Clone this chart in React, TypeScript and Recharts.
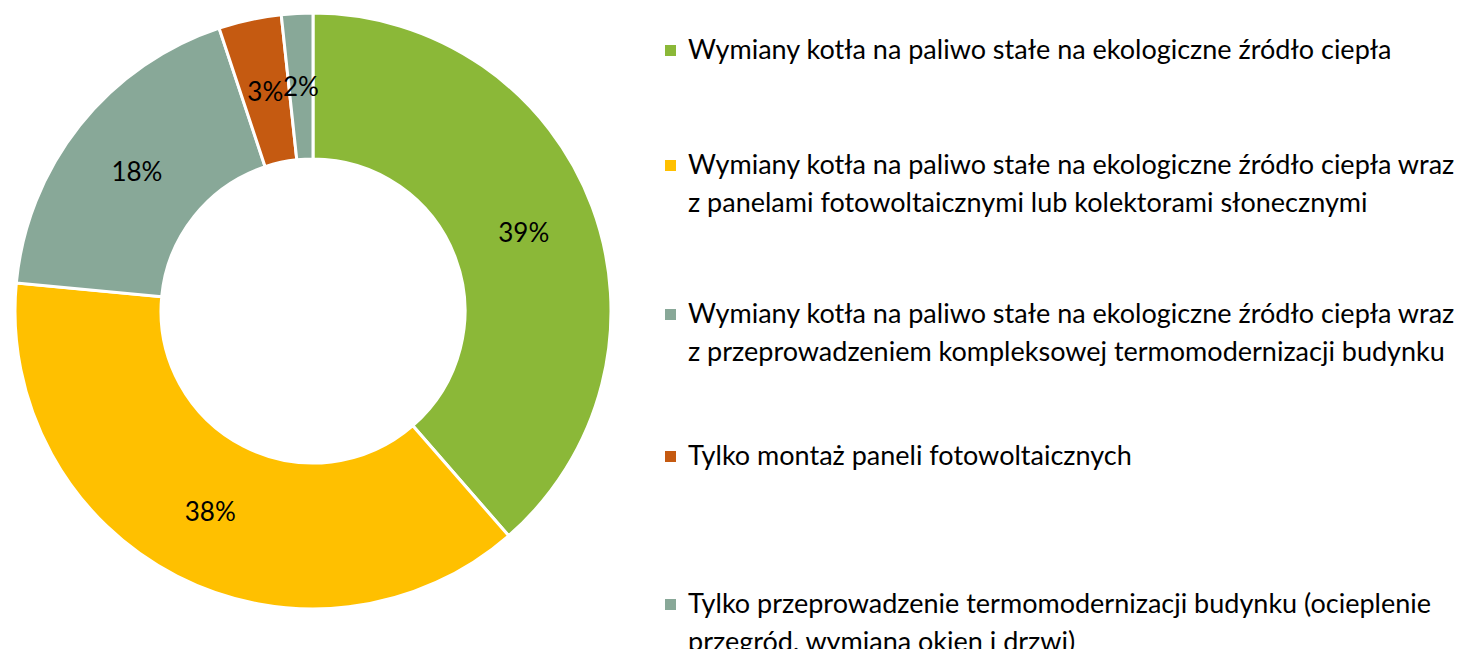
import React from 'react'
import { PieChart, Pie, Cell } from 'recharts'

const categories = [
  'Wymiany kotła na paliwo stałe na ekologiczne źródło ciepła',
  'Wymiany kotła na paliwo stałe na ekologiczne źródło ciepła wraz\nz panelami fotowoltaicznymi lub kolektorami słonecznymi',
  'Wymiany kotła na paliwo stałe na ekologiczne źródło ciepła wraz\nz przeprowadzeniem kompleksowej termomodernizacji budynku',
  'Tylko montaż paneli fotowoltaicznych',
  'Tylko przeprowadzenie termomodernizacji budynku (ocieplenie\nprzegród, wymiana okien i drzwi)',
]
const shares = [38.6, 37.9, 18.4, 3.4, 1.7]
const labels = ['39%', '38%', '18%', '3%', '2%']
const colors = ['#8BB838', '#FFC000', '#88A898', '#C55A11', '#88A898']

// top of each legend row
const legendTops = [30, 145, 294, 436, 584]

const data = categories.map((name, i) => ({ name, value: shares[i], label: labels[i] }))

const RAD = Math.PI / 180

function renderLabel(props: any) {
  const { cx, cy, midAngle, innerRadius, outerRadius, index } = props
  const r = (innerRadius + outerRadius) / 2
  const x = cx + r * Math.cos(-midAngle * RAD)
  const y = cy + r * Math.sin(-midAngle * RAD)
  return (
    <text x={x} y={y} fill="#000" textAnchor="middle" dominantBaseline="central"
      style={{ fontFamily: 'Lato, sans-serif', fontSize: 26 }}>
      {labels[index]}
    </text>
  )
}

export default function App() {
  return (
    <div style={{ position: 'absolute', left: 0, top: 0, width: 1462, height: 649, background: '#fff', overflow: 'hidden' }}>
      <PieChart width={640} height={649} margin={{ top: 0, right: 0, bottom: 0, left: 0 }}>
        <Pie
          data={data}
          dataKey="value"
          nameKey="name"
          cx={313}
          cy={311}
          innerRadius={152}
          outerRadius={298}
          startAngle={90}
          endAngle={-270}
          stroke="#fff"
          strokeWidth={3}
          label={renderLabel}
          labelLine={false}
          isAnimationActive={false}
        >
          {data.map((d, i) => <Cell key={d.name} fill={colors[i]} />)}
        </Pie>
      </PieChart>
      {categories.map((name, i) => (
        <div key={name} style={{ position: 'absolute', left: 665, top: legendTops[i], width: 797, display: 'flex',
          fontFamily: 'Lato, sans-serif', fontSize: 27, lineHeight: '38px', color: '#000', whiteSpace: 'pre-line' }}>
          <span style={{ width: 11, height: 11, background: colors[i], marginTop: 15, marginRight: 12, flexShrink: 0 }} />
          <span>{name}</span>
        </div>
      ))}
    </div>
  )
}
